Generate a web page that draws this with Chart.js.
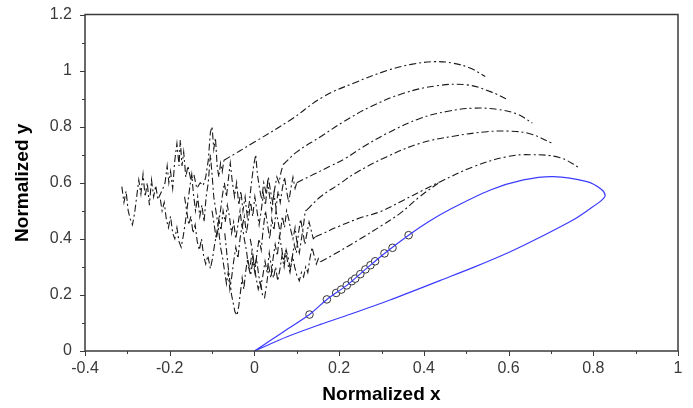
<!DOCTYPE html>
<html><head><meta charset="utf-8">
<script src="https://cdn.jsdelivr.net/npm/chart.js@4.4.1/dist/chart.umd.min.js"></script>
<style>html,body{margin:0;padding:0;background:#fff;}#wrap{width:693px;height:408px;position:relative;}</style>
</head><body><div id="wrap"><canvas id="c"></canvas></div>
<script>
// ---- axis tick values ----
const xTickValues = [-0.4,-0.3,-0.2,-0.1,0,0.1,0.2,0.3,0.4,0.5,0.6,0.7,0.8,0.9,1];
const yTickValues = [0,0.1,0.2,0.3,0.4,0.5,0.6,0.7,0.8,0.9,1,1.1,1.2];
const xLabels = ['-0.4','-0.2','0','0.2','0.4','0.6','0.8','1'];
const yLabels = ['0','0.2','0.4','0.6','0.8','1','1.2'];

// ---- blue closed curve ----
const blueCurve = [[0,0],[0.04,0.04],[0.08,0.08],[0.13,0.13],[0.171,0.184],[0.218,0.234],[0.262,0.291],[0.307,0.348],[0.364,0.413],[0.41,0.46],[0.458,0.502],[0.557,0.574],[0.635,0.61],[0.706,0.622],[0.785,0.604],[0.818,0.578],[0.828,0.556],[0.82,0.538],[0.79,0.505],[0.752,0.467],[0.68,0.41],[0.604,0.354],[0.52,0.30],[0.439,0.252],[0.32,0.182],[0.226,0.131],[0.156,0.095],[0.077,0.051],[0,0]];
// ---- circle markers ----
const circlesX = [0.130,0.171,0.193,0.205,0.218,0.230,0.238,0.250,0.262,0.274,0.285,0.307,0.326,0.364];
const circlesY = [0.130,0.184,0.207,0.219,0.234,0.249,0.258,0.274,0.291,0.306,0.320,0.348,0.368,0.413];

// ---- noisy trajectory starts ----
const noise1 = [[-0.313,0.586],[-0.308,0.53],[-0.303,0.57],[-0.298,0.50],[-0.293,0.47],[-0.288,0.45],[-0.283,0.49],[-0.278,0.55],[-0.273,0.61],[-0.268,0.56],[-0.263,0.63],[-0.258,0.55],[-0.253,0.60],[-0.248,0.52],[-0.243,0.61],[-0.238,0.55],[-0.233,0.59],[-0.228,0.54],[-0.222,0.56],[-0.216,0.58],[-0.211,0.60],[-0.206,0.66],[-0.202,0.60],[-0.198,0.64],[-0.193,0.58],[-0.188,0.68],[-0.183,0.74],[-0.178,0.66],[-0.175,0.752],[-0.171,0.66],[-0.167,0.71],[-0.162,0.62],[-0.157,0.66],[-0.150,0.61],[-0.143,0.63],[-0.136,0.58],[-0.128,0.60],[-0.121,0.59],[-0.115,0.62],[-0.109,0.68],[-0.104,0.78],[-0.100,0.80],[-0.096,0.72],[-0.092,0.76],[-0.088,0.66],[-0.084,0.62],[-0.080,0.67],[-0.076,0.64],[-0.072,0.68]];
const noise2 = [[-0.222,0.54],[-0.218,0.50],[-0.213,0.53],[-0.208,0.47],[-0.203,0.44],[-0.198,0.48],[-0.193,0.42],[-0.188,0.40],[-0.183,0.44],[-0.178,0.39],[-0.173,0.37],[-0.168,0.41],[-0.163,0.46],[-0.158,0.52],[-0.153,0.58],[-0.148,0.63],[-0.144,0.56],[-0.139,0.50],[-0.134,0.55],[-0.129,0.48],[-0.124,0.52],[-0.119,0.46],[-0.114,0.55],[-0.109,0.60],[-0.104,0.70],[-0.100,0.63],[-0.096,0.55],[-0.091,0.50],[-0.086,0.45],[-0.081,0.49],[-0.076,0.55],[-0.071,0.60],[-0.066,0.55],[-0.061,0.62],[-0.057,0.67],[-0.052,0.60],[-0.047,0.55],[-0.042,0.60],[-0.037,0.52],[-0.032,0.57],[-0.027,0.50],[-0.022,0.55],[-0.017,0.48],[-0.012,0.53],[-0.007,0.60],[-0.002,0.66],[0.003,0.70],[0.007,0.63],[0.012,0.58],[0.017,0.54],[0.022,0.60],[0.028,0.56],[0.033,0.62],[0.038,0.57],[0.043,0.53],[0.048,0.58],[0.053,0.62],[0.058,0.60],[0.063,0.64],[0.068,0.665]];
const noise3 = [[-0.165,0.55],[-0.160,0.50],[-0.155,0.45],[-0.150,0.48],[-0.145,0.42],[-0.140,0.45],[-0.135,0.39],[-0.130,0.36],[-0.125,0.40],[-0.120,0.34],[-0.115,0.31],[-0.110,0.34],[-0.104,0.294],[-0.099,0.33],[-0.094,0.38],[-0.089,0.42],[-0.084,0.47],[-0.079,0.43],[-0.074,0.50],[-0.069,0.46],[-0.064,0.52],[-0.059,0.48],[-0.054,0.42],[-0.049,0.46],[-0.044,0.40],[-0.039,0.45],[-0.034,0.50],[-0.029,0.44],[-0.024,0.48],[-0.019,0.42],[-0.014,0.47],[-0.009,0.53],[-0.004,0.48],[0.001,0.55],[0.006,0.50],[0.011,0.45],[0.016,0.50],[0.021,0.56],[0.026,0.52],[0.031,0.60],[0.036,0.55],[0.041,0.50],[0.046,0.56],[0.051,0.51],[0.056,0.57],[0.061,0.53],[0.066,0.58],[0.071,0.62],[0.076,0.57],[0.081,0.53],[0.086,0.58],[0.091,0.62],[0.096,0.58],[0.100,0.60]];
const noise4 = [[-0.100,0.50],[-0.095,0.45],[-0.090,0.40],[-0.085,0.44],[-0.080,0.37],[-0.075,0.33],[-0.070,0.28],[-0.066,0.24],[-0.062,0.28],[-0.058,0.22],[-0.054,0.26],[-0.049,0.32],[-0.044,0.37],[-0.039,0.33],[-0.034,0.40],[-0.029,0.45],[-0.024,0.40],[-0.019,0.36],[-0.014,0.30],[-0.009,0.27],[-0.004,0.32],[0.001,0.28],[0.006,0.35],[0.011,0.40],[0.016,0.36],[0.021,0.44],[0.026,0.50],[0.031,0.45],[0.036,0.40],[0.041,0.47],[0.046,0.43],[0.051,0.50],[0.056,0.46],[0.061,0.42],[0.066,0.48],[0.071,0.44],[0.076,0.50],[0.081,0.47],[0.086,0.43],[0.091,0.40],[0.096,0.44],[0.101,0.38],[0.106,0.35],[0.111,0.40],[0.116,0.45],[0.120,0.50],[0.124,0.503]];
const noise5 = [[-0.070,0.42],[-0.066,0.36],[-0.062,0.30],[-0.058,0.25],[-0.054,0.20],[-0.050,0.17],[-0.046,0.14],[-0.041,0.127],[-0.037,0.16],[-0.033,0.21],[-0.029,0.26],[-0.025,0.22],[-0.021,0.28],[-0.016,0.33],[-0.011,0.29],[-0.006,0.35],[-0.001,0.31],[0.004,0.26],[0.009,0.22],[0.014,0.25],[0.019,0.20],[0.024,0.19],[0.029,0.24],[0.034,0.30],[0.039,0.26],[0.044,0.33],[0.049,0.38],[0.054,0.34],[0.059,0.41],[0.064,0.37],[0.069,0.32],[0.074,0.36],[0.079,0.31],[0.084,0.28],[0.089,0.33],[0.094,0.38],[0.099,0.35],[0.104,0.42],[0.109,0.47],[0.114,0.43],[0.119,0.38],[0.124,0.42],[0.129,0.46],[0.134,0.43],[0.139,0.40],[0.144,0.407]];
const noise6 = [[-0.010,0.40],[-0.005,0.36],[0.000,0.30],[0.005,0.33],[0.010,0.27],[0.015,0.23],[0.020,0.27],[0.025,0.32],[0.030,0.28],[0.035,0.35],[0.040,0.30],[0.045,0.26],[0.050,0.30],[0.055,0.25],[0.060,0.29],[0.065,0.34],[0.070,0.30],[0.075,0.36],[0.080,0.33],[0.085,0.29],[0.090,0.34],[0.095,0.30],[0.100,0.27],[0.106,0.25],[0.111,0.28],[0.116,0.264],[0.121,0.30],[0.126,0.28],[0.131,0.33],[0.136,0.37],[0.141,0.34],[0.146,0.31],[0.151,0.33],[0.156,0.318]];

// ---- smooth arcs ----
const arc1 = [[-0.072,0.68],[0.0,0.745],[0.085,0.824],[0.163,0.907],[0.234,0.955],[0.313,1.0],[0.37,1.022],[0.427,1.032],[0.47,1.026],[0.509,1.009],[0.545,0.979]];
const arc2 = [[0.068,0.665],[0.101,0.711],[0.156,0.764],[0.211,0.818],[0.274,0.871],[0.352,0.919],[0.431,0.946],[0.502,0.949],[0.557,0.925],[0.600,0.895]];
const arc3 = [[0.100,0.60],[0.14,0.63],[0.18,0.66],[0.215,0.687],[0.258,0.729],[0.313,0.776],[0.392,0.83],[0.454,0.854],[0.517,0.866],[0.572,0.862],[0.62,0.845],[0.656,0.813]];
const arc4 = [[0.124,0.503],[0.156,0.55],[0.203,0.598],[0.238,0.634],[0.313,0.693],[0.392,0.741],[0.47,0.766],[0.549,0.782],[0.60,0.784],[0.65,0.775],[0.703,0.741]];
const arc5 = [[0.144,0.407],[0.2,0.445],[0.25,0.475],[0.297,0.497],[0.352,0.538],[0.40,0.575],[0.439,0.604],[0.517,0.657],[0.596,0.693],[0.651,0.700],[0.72,0.69],[0.769,0.652]];
const arc6 = [[0.156,0.318],[0.20,0.355],[0.25,0.40],[0.30,0.447],[0.344,0.491],[0.39,0.55],[0.439,0.604]];

const toXY = a => a.map(p => ({x:p[0], y:p[1]}));
const BLK = '#1a1a1a';
const DASH = [7,3,2,3];
function blackSet(arr, tension){
  return {data: toXY(arr), showLine:true, borderColor:BLK, borderWidth:1.1, borderDash:DASH, pointRadius:0, tension:tension, fill:false};
}

const framePlugin = {
  id:'frame',
  afterDatasetsDraw(chart){
    const {ctx, chartArea:{left,right,top,bottom}} = chart;
    const xs = chart.scales.x, ys = chart.scales.y;
    ctx.save();
    ctx.strokeStyle = '#3a3a3a';
    ctx.lineWidth = 1.5;
    ctx.strokeRect(left, top, right-left, bottom-top);
    ctx.lineWidth = 1;
    ctx.beginPath();
    xTickValues.forEach((v,i) => {
      const px = Math.round(xs.getPixelForValue(v)) + 0.5;
      const len = (i % 2 === 0) ? 5 : 3;
      ctx.moveTo(px, bottom); ctx.lineTo(px, bottom + len);
    });
    yTickValues.forEach((v,i) => {
      const py = Math.round(ys.getPixelForValue(v)) + 0.5;
      const len = (i % 2 === 0) ? 5 : 3;
      ctx.moveTo(left, py); ctx.lineTo(left - len, py);
    });
    ctx.stroke();
    ctx.restore();
  }
};

new Chart(document.getElementById('c'), {
  type:'scatter',
  data:{datasets:[
    blackSet(noise1,0), blackSet(arc1,0.4),
    blackSet(noise2,0), blackSet(arc2,0.4),
    blackSet(noise3,0), blackSet(arc3,0.4),
    blackSet(noise4,0), blackSet(arc4,0.4),
    blackSet(noise5,0), blackSet(arc5,0.4),
    blackSet(noise6,0), blackSet(arc6,0.4),
    {data: toXY(blueCurve), showLine:true, borderColor:'#3b3bff', borderWidth:1.2, pointRadius:0, tension:0.3, fill:false},
    {data: circlesX.map((x,i)=>({x:x, y:circlesY[i]})), showLine:false, pointRadius:3.8, pointBackgroundColor:'#ffffff', pointBorderColor:'#333333', pointBorderWidth:1}
  ]},
  options:{
    responsive:true, maintainAspectRatio:false, animation:false,
    layout:{padding:{top:14.5, right:15, left:0, bottom:0}},
    plugins:{legend:{display:false}, tooltip:{enabled:false}},
    scales:{
      x:{type:'linear', min:-0.4, max:1,
        afterFit(s){ s.height = 57; s.paddingLeft = 0; s.paddingRight = 0; },
        grid:{display:false, drawTicks:false}, border:{display:false},
        ticks:{stepSize:0.2, padding:8, color:'#3a3a3a', font:{family:'Liberation Sans, Arial, sans-serif', size:16},
          maxRotation:0, autoSkip:false,
          callback:(v)=>{ const i = xLabels.indexOf(String(Math.round(v*10)/10)); return i>=0 ? xLabels[i] : ''; }},
        title:{display:true, text:'Normalized x', color:'#000', font:{family:'Liberation Sans, Arial, sans-serif', size:19, weight:'bold'}, padding:{top:0,bottom:2}}
      },
      y:{type:'linear', min:0, max:1.2,
        afterFit(s){ s.width = 85; s.paddingTop = 0; s.paddingBottom = 0; },
        grid:{display:false, drawTicks:false}, border:{display:false},
        ticks:{stepSize:0.2, padding:13, color:'#3a3a3a', font:{family:'Liberation Sans, Arial, sans-serif', size:16},
          callback:(v)=>{ const i = yLabels.indexOf(String(Math.round(v*10)/10)); return i>=0 ? yLabels[i] : ''; }},
        title:{display:true, text:'Normalized y', color:'#000', font:{family:'Liberation Sans, Arial, sans-serif', size:19, weight:'bold'}, padding:{top:11,bottom:0}}
      }
    }
  },
  plugins:[framePlugin]
});
</script></body></html>
